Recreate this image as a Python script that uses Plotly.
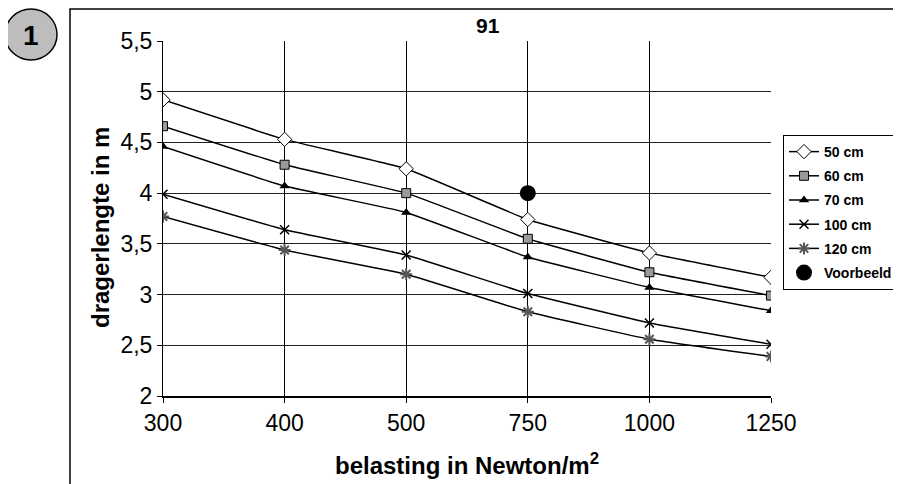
import plotly.graph_objects as go

FONT = "Arial, Liberation Sans, sans-serif"

belasting = ["300", "400", "500", "750", "1000", "1250"]

len_50 = [4.92, 4.53, 4.24, 3.74, 3.41, 3.17]
len_60 = [4.66, 4.28, 4.00, 3.55, 3.22, 2.99]
len_70 = [4.46, 4.07, 3.81, 3.37, 3.07, 2.84]
len_100 = [3.99, 3.64, 3.39, 3.01, 2.72, 2.51]
len_120 = [3.77, 3.44, 3.20, 2.83, 2.56, 2.39]

voorbeeld_x = ["750"]
voorbeeld_y = [4.00]

SERIES = [
    ("50 cm", len_50, dict(symbol="diamond", size=11, color="white",
                           line=dict(color="black", width=1))),
    ("60 cm", len_60, dict(symbol="square", size=9, color="#9a9a9a",
                           line=dict(color="black", width=1))),
    ("70 cm", len_70, dict(symbol="triangle-up", size=9, color="black")),
    ("100 cm", len_100, dict(symbol="x-thin-open", size=9, color="black",
                             line=dict(color="black", width=1.5))),
    ("120 cm", len_120, dict(symbol="asterisk-open", size=10, color="#555555",
                             line=dict(color="#555555", width=2))),
]

fig = go.Figure()
for i, (name, vals, marker) in enumerate(SERIES):
    fig.add_trace(go.Scatter(
        x=belasting, y=vals, name=name, mode="lines+markers",
        line=dict(color="black", width=1.5, shape="spline", smoothing=0.3),
        marker=marker, legendgroup=f"g{i}",
    ))

fig.add_trace(go.Scatter(
    x=voorbeeld_x, y=voorbeeld_y, name="Voorbeeld", mode="markers",
    marker=dict(symbol="circle", size=16, color="black"),
    legendgroup="g9",
))

# plot area in page pixels; the page body adds an 8px offset
OFF = 8
L, R, T, B = 163, 771, 41, 396
W, H = 901 - OFF, 484 - OFF


def px(x):
    return (x - L) / (R - L)


def py(y):
    return (B - y) / (B - T)


def note(text, x, y, size, angle=0):
    return dict(text=text, xref="paper", yref="paper", x=px(x), y=py(y),
                xanchor="center", yanchor="middle", textangle=angle,
                showarrow=False, font=dict(size=size))


fig.update_layout(
    width=W, height=H,
    margin=dict(l=L - OFF, r=W - (R - OFF), t=T - OFF, b=H - (B - OFF),
                autoexpand=False),
    paper_bgcolor="white", plot_bgcolor="white",
    font=dict(family=FONT, color="black"),
    separators=",.",
    showlegend=True,
    xaxis=dict(type="category", range=[0, 5], showgrid=True, gridcolor="black",
               gridwidth=1, showline=True, linecolor="black", linewidth=2,
               ticks="outside", ticklen=5, tickcolor="black",
               tickfont=dict(size=23), zeroline=False),
    yaxis=dict(range=[2, 5.5], dtick=0.5, tick0=2, showgrid=True,
               gridcolor="#222222", gridwidth=1, showline=True,
               linecolor="black", linewidth=1, ticks="outside", ticklen=5,
               tickcolor="black", tickfont=dict(size=23), zeroline=False),
    legend=dict(x=px(783), y=py(135), xanchor="left", yanchor="top",
                bordercolor="black", borderwidth=1, bgcolor="white",
                font=dict(size=14, family=FONT, weight="bold"),
                traceorder="grouped", tracegroupgap=3, itemwidth=30),
    shapes=[
        dict(type="rect", xref="paper", yref="paper",
             x0=px(70), x1=1.6, y0=-0.6, y1=py(9),
             line=dict(color="black", width=1.5)),
        dict(type="circle", xref="paper", yref="paper",
             x0=px(5), x1=px(57), y0=py(60), y1=py(9),
             fillcolor="#bdbdbd", line=dict(color="black", width=1.5)),
    ],
    annotations=[
        note("<b>1</b>", 31, 35, 28),
        note("<b>91</b>", 488, 25, 21),
        note("<b>dragerlengte in m</b>", 100, 228, 24, angle=-90),
        note("<b>belasting in Newton/m<sup>2</sup></b>", 467, 464, 24),
    ],
)

fig.write_html("out.html")
